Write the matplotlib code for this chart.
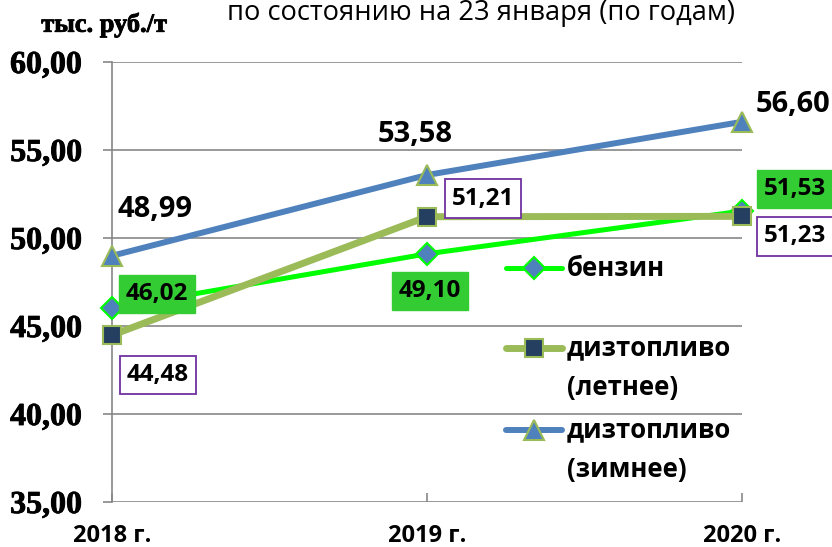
import matplotlib
matplotlib.use("Agg")
import matplotlib.pyplot as plt
from matplotlib import font_manager as fm
import matplotlib.patheffects as pe

# ---- data ----
years = ["2018 г.", "2019 г.", "2020 г."]
benzin = [46.02, 49.10, 51.53]
dt_summer = [44.48, 51.21, 51.23]
dt_winter = [48.99, 53.58, 56.60]
yticks = [35, 40, 45, 50, 55, 60]
title = "по состоянию на 23 января (по годам)"
ylabel = "тыс. руб./т"
names = [["бензин"], ["дизтопливо", "(летнее)"], ["дизтопливо", "(зимнее)"]]

def fmt(v):
    return f"{v:.2f}".replace(".", ",")

SANS = "Open Sans"
SERIF = "Liberation Serif"
GRID = "#878787"

# embolden serif if a real bold face is not available
_serif_file = fm.findfont(fm.FontProperties(family=SERIF, weight="bold"))
if "bold" in _serif_file.lower():
    serif_fx = [pe.withStroke(linewidth=0.6, foreground="black")]
else:
    serif_fx = [pe.withStroke(linewidth=1.6, foreground="black")]

fig = plt.figure(figsize=(8.32, 5.47), dpi=100)
ax = fig.add_axes([112/832, 45/547, 630/832, 440/547])
x = list(range(len(years)))

styles = [
    dict(color="#00FF00", lw=3.6, marker="D", ms=11, mfc="#4F81BD", mec="#00FF00", mew=1.5),
    dict(color="#9BBB59", lw=5.0, marker="s", ms=12.5, mfc="#243F60", mec="#9BBB59", mew=1.5),
    dict(color="#4F81BD", lw=4.3, marker="^", ms=14, mfc="#4F81BD", mec="#9BBB59", mew=1.5),
]
series = [benzin, dt_summer, dt_winter]
for s, st in zip(series, styles):
    ax.plot(x, s, solid_capstyle="round", zorder=3, clip_on=False, **st)

# data labels
off_winter = [(43, 46), (-12, 40), (51, 17)]
off_benzin = [(45, 14), (3, -37), (53, 22)]
off_summer = [(46, -40), (56, 18), (53, -20)]
for i, v in enumerate(dt_winter):
    ax.annotate(fmt(v), (x[i], v), xytext=off_winter[i], textcoords="offset pixels",
                ha="center", va="center", fontsize=21, fontweight="bold", family=SANS,
                annotation_clip=False, zorder=5)
for i, v in enumerate(benzin):
    ax.annotate(fmt(v), (x[i], v), xytext=off_benzin[i], textcoords="offset pixels",
                ha="center", va="center", fontsize=17.5, fontweight="bold", family=SANS,
                annotation_clip=False, zorder=5,
                bbox=dict(boxstyle="square,pad=0.3", fc="#33CC33", ec="#33CC33"))
for i, v in enumerate(dt_summer):
    ax.annotate(fmt(v), (x[i], v), xytext=off_summer[i], textcoords="offset pixels",
                ha="center", va="center", fontsize=17.5, fontweight="bold", family=SANS,
                annotation_clip=False, zorder=5,
                bbox=dict(boxstyle="square,pad=0.3", fc="white", ec="#7030A0", lw=1.3))

# axes styling
ax.set_xlim(0, 2)
ax.set_ylim(35, 60)
ax.set_yticks(yticks)
ax.set_yticklabels([fmt(t) for t in yticks], fontsize=23, fontweight="bold", family=SERIF)
for t in ax.get_yticklabels():
    t.set_path_effects(serif_fx)
ax.set_xticks(x)
ax.set_xticklabels(years, fontsize=17, fontweight="bold", family=SANS)
ax.yaxis.grid(True, color=GRID, lw=1.2, zorder=0)
ax.set_axisbelow(True)
for sp in ["top", "right", "bottom"]:
    ax.spines[sp].set_visible(False)
ax.spines["left"].set_color(GRID)
ax.spines["left"].set_linewidth(1.2)
ax.tick_params(axis="y", direction="out", length=6.5, width=1.2, color=GRID, pad=15)
ax.tick_params(axis="x", direction="in", length=6.5, width=1.2, color=GRID, pad=16)

# manual legend (axes fraction)
leg_y = [0.5318, 0.35, 0.1636]
line_gap = 39 / 440
for st, nm, yy in zip(styles, names, leg_y):
    ax.plot([0.6254, 0.7143], [yy, yy], transform=ax.transAxes, color=st["color"],
            lw=st["lw"], solid_capstyle="round", clip_on=False, zorder=4)
    ax.plot([0.6698], [yy], transform=ax.transAxes, ls="none", marker=st["marker"],
            ms=st["ms"], mfc=st["mfc"], mec=st["mec"], mew=st["mew"], clip_on=False, zorder=4)
    for k, line in enumerate(nm):
        ax.text(0.7222, yy - k * line_gap, line, transform=ax.transAxes, ha="left", va="center",
                fontsize=18.5, fontweight="bold", family=SANS)

fig.text(481/832, 1 - 20/547, title, ha="center", va="baseline", fontsize=19.6, family=SANS)
fig.text(104/832, 1 - 25/547, ylabel, ha="center", va="center", fontsize=19,
         fontweight="bold", family=SERIF, path_effects=serif_fx)

fig.savefig("out.png", dpi=100)
